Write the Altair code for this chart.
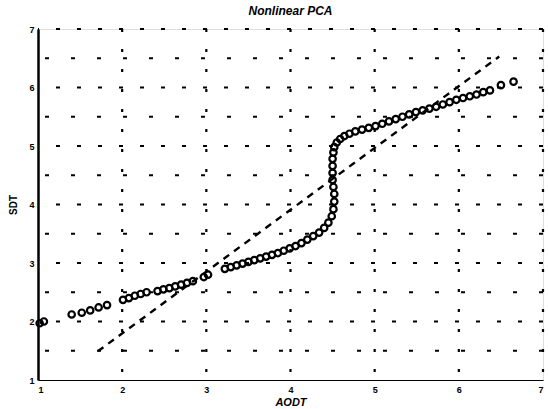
import altair as alt
import pandas as pd

# Nonlinear PCA curve (circles)
curve_x = [1.02, 1.07, 1.40, 1.52, 1.62, 1.72, 1.82, 2.01, 2.08, 2.15, 2.22, 2.29,
           2.42, 2.49, 2.56, 2.63, 2.70, 2.77, 2.84, 2.97, 3.02, 3.22, 3.29, 3.36,
           3.43, 3.50, 3.57, 3.64, 3.71, 3.78, 3.85, 3.92, 3.99, 4.06, 4.13, 4.20,
           4.27, 4.34, 4.40, 4.45, 4.49, 4.51, 4.52, 4.52, 4.51, 4.50, 4.50, 4.50,
           4.50, 4.51, 4.52, 4.55, 4.59, 4.64, 4.70, 4.77, 4.85, 4.93, 5.01, 5.09,
           5.17, 5.25, 5.33, 5.41, 5.49, 5.57, 5.65, 5.73, 5.81, 5.89, 5.97, 6.05,
           6.13, 6.21, 6.29, 6.37, 6.50, 6.65]
curve_y = [1.97, 2.00, 2.12, 2.15, 2.19, 2.24, 2.28, 2.37, 2.40, 2.44, 2.47, 2.50,
           2.52, 2.55, 2.57, 2.60, 2.63, 2.66, 2.69, 2.76, 2.80, 2.90, 2.93, 2.96,
           2.99, 3.02, 3.05, 3.08, 3.11, 3.14, 3.17, 3.21, 3.25, 3.29, 3.34, 3.40,
           3.46, 3.52, 3.60, 3.69, 3.80, 3.92, 4.05, 4.18, 4.30, 4.42, 4.54, 4.66,
           4.78, 4.89, 4.98, 5.06, 5.12, 5.17, 5.21, 5.25, 5.28, 5.31, 5.34, 5.38,
           5.42, 5.46, 5.50, 5.54, 5.58, 5.61, 5.64, 5.67, 5.71, 5.75, 5.79, 5.82,
           5.85, 5.88, 5.92, 5.95, 6.04, 6.10]

# Linear PCA line (dashed)
line_x = [1.71, 6.48]
line_y = [1.49, 6.53]

# Grid positions and tick labels
grid_major = [2, 3, 4, 5, 6, 7]
grid_minor = [1.5, 2.5, 3.5, 4.5, 5.5, 6.5]
grid_v = [2, 3, 4, 5, 6, 7]
ticks = [1, 2, 3, 4, 5, 6, 7]

curve_df = pd.DataFrame({"AODT": curve_x, "SDT": curve_y})
line_df = pd.DataFrame({"AODT": line_x, "SDT": line_y})
gmaj_df = pd.DataFrame({"y": grid_major})
gmin_df = pd.DataFrame({"y": grid_minor})
gv_df = pd.DataFrame({"x": grid_v})

xs = alt.Scale(domain=[1, 7], nice=False, zero=False)
ys = alt.Scale(domain=[1, 7], nice=False, zero=False)

font = "Liberation Sans"

hmaj = alt.Chart(gmaj_df).mark_rule(color="black", strokeWidth=2.2, strokeDash=[4, 17]).encode(
    y=alt.Y("y:Q", scale=ys)
)
hmin = alt.Chart(gmin_df).mark_rule(color="black", strokeWidth=2.2, strokeDash=[4, 22]).encode(
    y=alt.Y("y:Q", scale=ys)
)
vgrid = alt.Chart(gv_df).mark_rule(color="black", strokeWidth=2.2, strokeDash=[3, 17]).encode(
    x=alt.X("x:Q", scale=xs)
)

line = alt.Chart(line_df).mark_line(color="black", strokeWidth=2.4, strokeDash=[7, 6]).encode(
    x=alt.X("AODT:Q", scale=xs),
    y=alt.Y("SDT:Q", scale=ys),
)

pts = alt.Chart(curve_df).mark_point(shape="circle", filled=False, color="black",
                                     size=42, strokeWidth=2.2, opacity=1).encode(
    x=alt.X("AODT:Q", scale=xs,
            axis=alt.Axis(values=ticks, format="d", title="AODT", grid=False, ticks=False,
                          labelFont=font, labelFontWeight="bold", labelFontSize=9,
                          labelColor="black", labelPadding=5,
                          titleFont=font, titleFontWeight="bold", titleFontStyle="italic",
                          titleFontSize=11, titleColor="black", titlePadding=2,
                          domainColor="black", domainWidth=1.2)),
    y=alt.Y("SDT:Q", scale=ys,
            axis=alt.Axis(values=ticks, format="d", title="SDT", grid=False, ticks=False,
                          labelFont=font, labelFontWeight="bold", labelFontSize=9,
                          labelColor="black", labelPadding=4,
                          titleFont=font, titleFontWeight="bold",
                          titleFontSize=10, titleColor="black", titlePadding=10,
                          domainColor="black", domainWidth=2.5)),
)

chart = alt.layer(hmaj, hmin, vgrid, line, pts).properties(
    width=505,
    height=351,
    title=alt.TitleParams("Nonlinear PCA", font=font, fontSize=12, fontWeight="bold",
                          fontStyle="italic", color="black", offset=7, anchor="middle"),
    autosize=alt.AutoSizeParams(type="none"),
    padding={"left": 38, "top": 29, "right": 6, "bottom": 29},
).configure_view(stroke=None).configure(background="white")

chart.save("out.html", embed_options={"renderer": "svg", "actions": False})
